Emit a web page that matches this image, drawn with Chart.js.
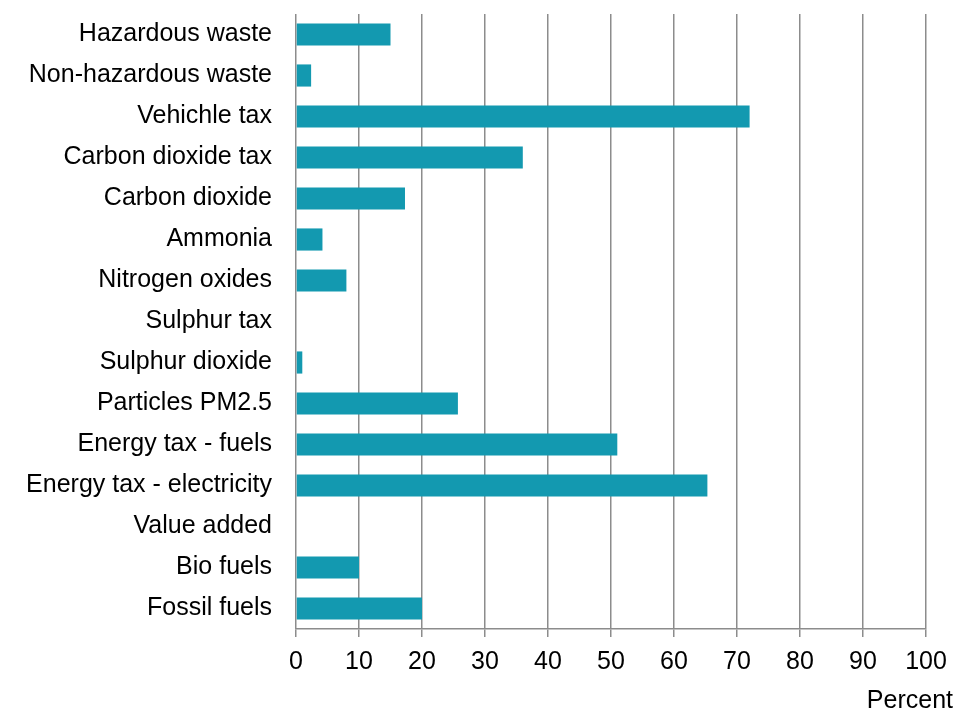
<!DOCTYPE html>
<html lang="en">
<head>
  <meta charset="UTF-8" />
  <title>Percent by tax / emission</title>
  <script src="https://cdn.jsdelivr.net/npm/chart.js"></script>
  <style>
    body { margin: 0; background: #fff; }
    #wrap { width: 957px; height: 712px; }
  </style>
</head>
<body>
  <div id="wrap"><canvas id="chart" width="957" height="712"></canvas></div>
  <script>
    const categories = [
      "Hazardous waste", "Non-hazardous waste", "Vehichle tax", "Carbon dioxide tax",
      "Carbon dioxide", "Ammonia", "Nitrogen oxides", "Sulphur tax", "Sulphur dioxide",
      "Particles PM2.5", "Energy tax - fuels", "Energy tax - electricity", "Value added",
      "Bio fuels", "Fossil fuels"
    ];
    const percentValues = [15, 2.4, 72, 36, 17.3, 4.2, 8, 0, 1, 25.7, 51, 65.3, 0, 10, 20];
    const xTicks = [0, 10, 20, 30, 40, 50, 60, 70, 80, 90, 100];
    const unitLabel = "Percent";

    const font = "'Liberation Sans', Arial, sans-serif";
    const fontSize = 25;

    // draws the unit label at the bottom right corner
    const unitPlugin = {
      id: 'unitLabel',
      afterDraw(chart) {
        const c = chart.ctx;
        c.save();
        c.font = fontSize + "px " + font;
        c.fillStyle = "#000";
        c.textAlign = "right";
        c.textBaseline = "middle";
        c.fillText(unitLabel, chart.width - 4, 701);
        c.restore();
      }
    };

    new Chart(document.getElementById('chart'), {
      type: 'bar',
      data: {
        labels: categories,
        datasets: [{
          data: percentValues,
          backgroundColor: '#1399b0',
          borderWidth: 0,
          categoryPercentage: 1,
          barPercentage: 0.54
        }]
      },
      options: {
        indexAxis: 'y',
        responsive: false,
        animation: false,
        layout: { padding: { left: 0, right: 31, top: 14, bottom: 25 } },
        plugins: { legend: { display: false }, tooltip: { enabled: false } },
        scales: {
          x: {
            min: 0,
            max: 100,
            afterBuildTicks(axis) { axis.ticks = xTicks.map(v => ({ value: v })); },
            grid: { color: '#8c8c8c', lineWidth: 1.5, tickLength: 8 },
            border: { display: true, color: '#8c8c8c', width: 1.5 },
            ticks: { color: '#000', font: { family: font, size: fontSize }, padding: 10, maxRotation: 0 }
          },
          y: {
            afterFit(scale) {
              scale.width = 296;
              scale.paddingTop = 0;
              scale.paddingBottom = 0;
            },
            grid: { display: false, drawTicks: false },
            border: { display: false },
            ticks: { color: '#000', font: { family: font, size: fontSize }, padding: 24 }
          }
        }
      },
      plugins: [unitPlugin]
    });
  </script>
</body>
</html>
